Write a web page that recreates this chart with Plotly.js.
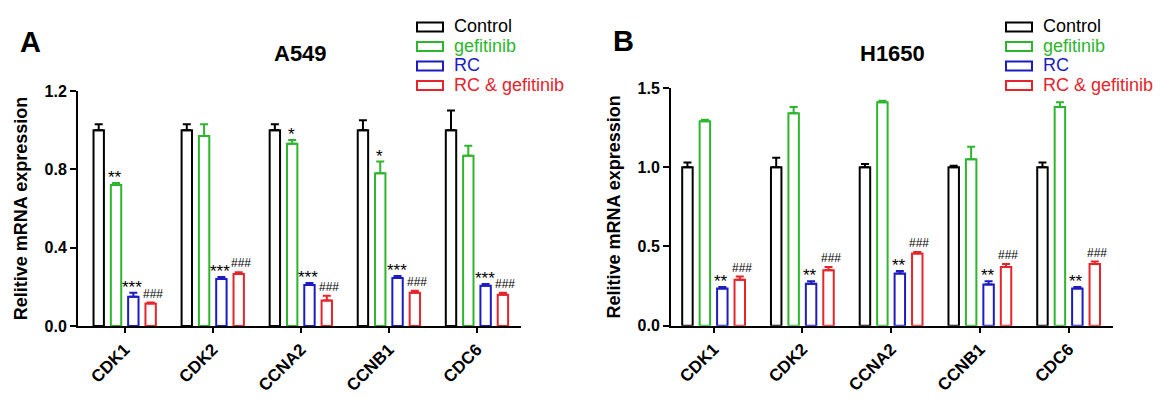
<!DOCTYPE html>
<html>
<head>
<meta charset="utf-8">
<script src="https://cdn.plot.ly/plotly-3.0.1.min.js"></script>
<style>html,body{margin:0;padding:0;background:#fff;}#chart{width:1161px;height:413px;}</style>
</head>
<body>
<div id="chart"></div>
<script>
// ---- data ----
var categories = ['CDK1', 'CDK2', 'CCNA2', 'CCNB1', 'CDC6'];
var seriesNames = ['Control', 'gefitinib', 'RC', 'RC & gefitinib'];
var seriesColors = ['#000000', '#2eb52e', '#1c1cc0', '#e5242b'];

// A549
var a549Control = [1.00, 1.00, 1.00, 1.00, 1.00];
var a549ControlErr = [0.03, 0.03, 0.03, 0.05, 0.10];
var a549Gefitinib = [0.72, 0.97, 0.93, 0.78, 0.87];
var a549GefitinibErr = [0.01, 0.06, 0.02, 0.06, 0.05];
var a549RC = [0.15, 0.24, 0.21, 0.245, 0.205];
var a549RCErr = [0.02, 0.01, 0.01, 0.01, 0.01];
var a549RCGef = [0.115, 0.265, 0.13, 0.17, 0.16];
var a549RCGefErr = [0.005, 0.01, 0.025, 0.01, 0.01];
var a549SigGef = ['**', '', '*', '*', ''];
var a549SigRC = ['***', '***', '***', '***', '***'];
var a549SigRCGef = ['###', '###', '###', '###', '###'];

// H1650
var h1650Control = [1.00, 1.00, 1.00, 1.00, 1.00];
var h1650ControlErr = [0.03, 0.06, 0.02, 0.01, 0.03];
var h1650Gefitinib = [1.29, 1.34, 1.41, 1.05, 1.38];
var h1650GefitinibErr = [0.01, 0.04, 0.01, 0.08, 0.03];
var h1650RC = [0.235, 0.265, 0.33, 0.26, 0.235];
var h1650RCErr = [0.01, 0.015, 0.015, 0.02, 0.01];
var h1650RCGef = [0.29, 0.35, 0.455, 0.37, 0.39];
var h1650RCGefErr = [0.02, 0.02, 0.01, 0.02, 0.015];
var h1650SigGef = ['', '', '', '', ''];
var h1650SigRC = ['**', '**', '**', '**', '**'];
var h1650SigRCGef = ['###', '###', '###', '###', '###'];

var a549YTicks = [0, 0.4, 0.8, 1.2];
var a549YTickText = ['0.0', '0.4', '0.8', '1.2'];
var h1650YTicks = [0, 0.5, 1.0, 1.5];
var h1650YTickText = ['0.0', '0.5', '1.0', '1.5'];

var panelLetters = ['A', 'B'];
var panelTitles = ['A549', 'H1650'];
var yTitle = 'Relitive mRNA expression';

// ---- build ----
var W = 1161, H = 413;
var FONT = 'Liberation Sans, Arial, Helvetica, sans-serif';
var BARGAP = 0.214;
var traces = [];
var annotations = [];
var shapes = [];

function addPanel(vals, errs, sigs, xa, ya) {
  for (var k = 0; k < 4; k++) {
    traces.push({
      type: 'bar',
      x: categories,
      y: vals[k],
      xaxis: xa, yaxis: ya,
      name: seriesNames[k],
      showlegend: false,
      marker: {color: '#ffffff', line: {color: seriesColors[k], width: 2}},
      error_y: {type: 'data', symmetric: false, array: errs[k],
        arrayminus: errs[k].map(function () { return 0; }),
        color: seriesColors[k], thickness: 2, width: 4},
      hoverinfo: 'y'
    });
    if (sigs[k]) {
      for (var i = 0; i < categories.length; i++) {
        var s = sigs[k][i];
        if (!s) continue;
        var isHash = s.charAt(0) === '#';
        annotations.push({
          xref: xa, yref: ya,
          x: i + (k - 1.5) * (1 - BARGAP) / 4,
          y: vals[k][i] + errs[k][i],
          text: s, showarrow: false, xanchor: 'center', yanchor: 'bottom',
          xshift: isHash ? 2 : -1,
          yshift: isHash ? 1 : -5,
          borderpad: 0,
          font: {family: FONT, size: isHash ? 12 : 17, color: '#000000'}
        });
      }
    }
  }
}

addPanel([a549Control, a549Gefitinib, a549RC, a549RCGef],
  [a549ControlErr, a549GefitinibErr, a549RCErr, a549RCGefErr],
  [null, a549SigGef, a549SigRC, a549SigRCGef], 'x', 'y');
addPanel([h1650Control, h1650Gefitinib, h1650RC, h1650RCGef],
  [h1650ControlErr, h1650GefitinibErr, h1650RCErr, h1650RCGefErr],
  [null, h1650SigGef, h1650SigRC, h1650SigRCGef], 'x2', 'y2');

// legends (one per panel): outlined boxes + coloured labels
var legendBoxX = [[417, 443], [1006, 1032]];
var legendTextX = [452, 1041];
var legendRowY0 = 26, legendRowStep = 19.5;
for (var p = 0; p < 2; p++) {
  for (var k = 0; k < seriesNames.length; k++) {
    var cy = legendRowY0 + k * legendRowStep;
    shapes.push({type: 'rect', xref: 'paper', yref: 'paper',
      x0: legendBoxX[p][0] / W, x1: legendBoxX[p][1] / W,
      y0: 1 - (cy + 5.5) / H, y1: 1 - (cy - 3.5) / H,
      line: {color: seriesColors[k], width: 2}, fillcolor: 'rgba(0,0,0,0)'});
    annotations.push({xref: 'paper', yref: 'paper', x: legendTextX[p] / W, y: 1 - cy / H,
      text: seriesNames[k], showarrow: false, xanchor: 'left', yanchor: 'middle',
      font: {family: FONT, size: 18, color: seriesColors[k]}});
  }
}

// panel letters and titles
var letterPos = [[30, 42], [623, 41]];
var titlePos = [[300, 53], [892, 53]];
for (var p = 0; p < 2; p++) {
  annotations.push({xref: 'paper', yref: 'paper', x: letterPos[p][0] / W, y: 1 - letterPos[p][1] / H,
    text: panelLetters[p], showarrow: false, xanchor: 'center', yanchor: 'middle',
    font: {family: FONT, size: 29, weight: 'bold', color: '#000'}});
  annotations.push({xref: 'paper', yref: 'paper', x: titlePos[p][0] / W, y: 1 - titlePos[p][1] / H,
    text: panelTitles[p], showarrow: false, xanchor: 'center', yanchor: 'middle',
    font: {family: FONT, size: 22, weight: 'bold', color: '#000'}});
}

function xAxis(domain, range, anchor) {
  return {domain: domain, anchor: anchor, type: 'category', categoryorder: 'array', categoryarray: categories,
    range: range, showline: true, linecolor: '#000', linewidth: 2, mirror: false,
    ticks: 'outside', ticklen: 5, tickwidth: 2, tickcolor: '#000', tickangle: -45,
    tickfont: {family: FONT, size: 17, weight: 'bold', color: '#000'},
    showgrid: false, zeroline: false, fixedrange: true};
}
function yAxis(domain, range, tv, tt, anchor) {
  return {domain: domain, range: range, anchor: anchor, tickvals: tv, ticktext: tt,
    showline: true, linecolor: '#000', linewidth: 2, ticks: 'outside', ticklen: 6, tickwidth: 2, tickcolor: '#000',
    tickfont: {family: FONT, size: 16, weight: 'bold', color: '#000'},
    title: {text: yTitle, font: {family: FONT, size: 18, weight: 'bold', color: '#000'}, standoff: 12},
    showgrid: false, zeroline: false, fixedrange: true};
}

var layout = {
  width: W, height: H,
  margin: {l: 0, r: 0, t: 0, b: 0},
  paper_bgcolor: '#ffffff', plot_bgcolor: '#ffffff',
  barmode: 'group', bargap: BARGAP, bargroupgap: 0.4,
  xaxis: xAxis([78 / W, 521 / W], [-0.53, 4.5], 'y'),
  yaxis: yAxis([87 / H, 322 / H], [0, 1.2], a549YTicks, a549YTickText, 'x'),
  xaxis2: xAxis([671 / W, 1113 / W], [-0.48, 4.5], 'y2'),
  yaxis2: yAxis([87.3 / H, 325 / H], [0, 1.5], h1650YTicks, h1650YTickText, 'x2'),
  showlegend: false,
  shapes: shapes,
  annotations: annotations,
  font: {family: FONT}
};

Plotly.newPlot('chart', traces, layout, {displayModeBar: false, staticPlot: true});
</script>
</body>
</html>
